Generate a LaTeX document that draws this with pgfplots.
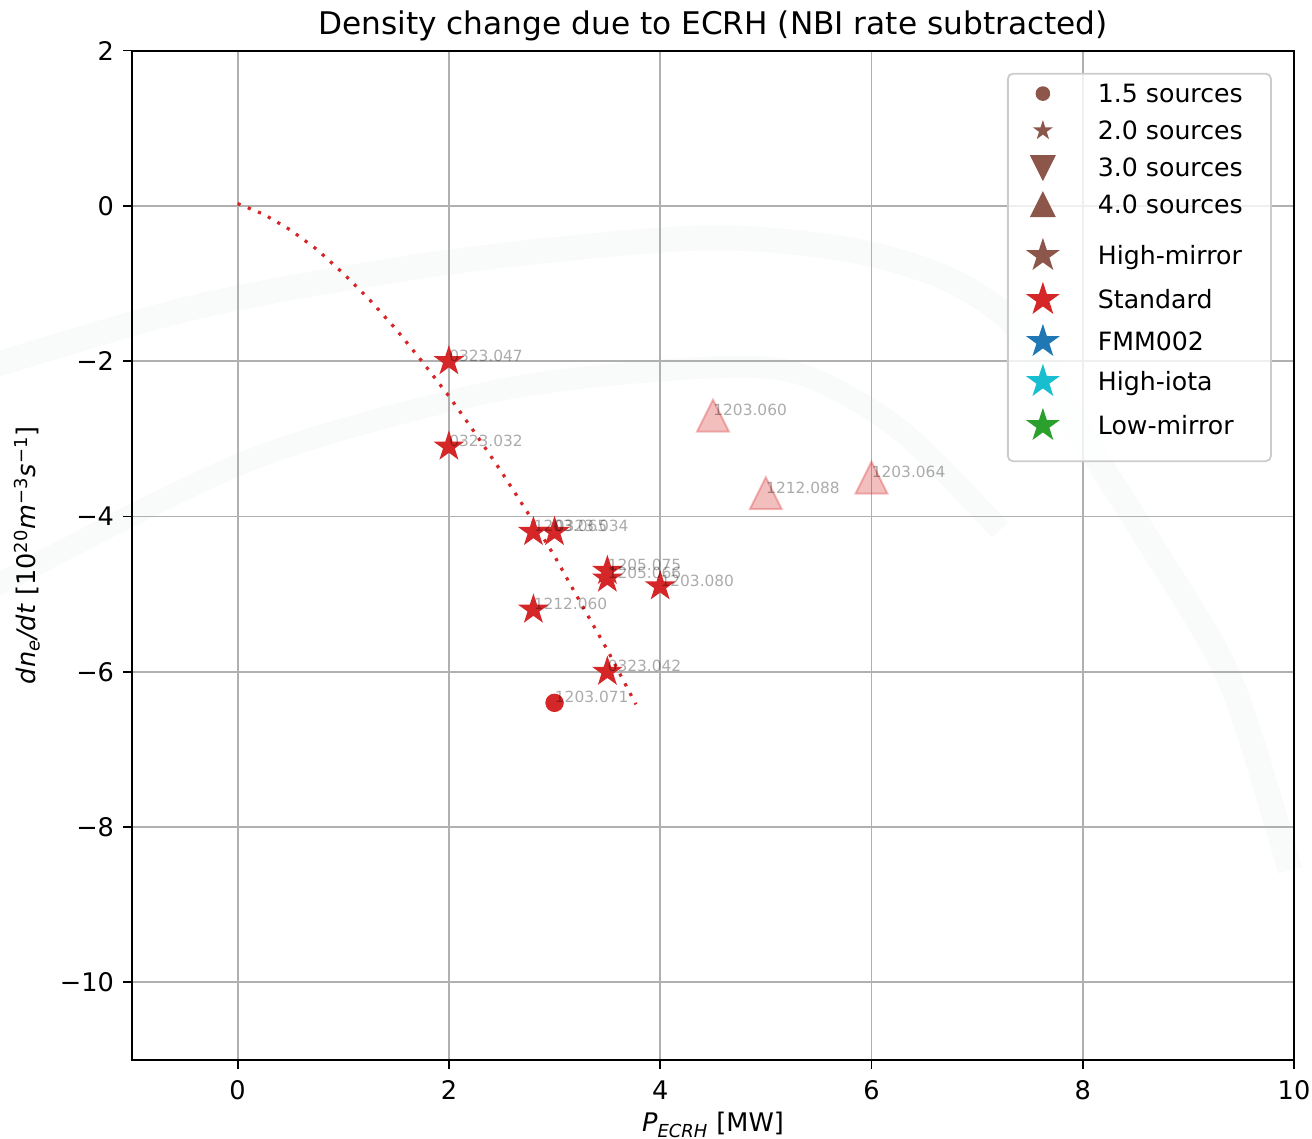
\documentclass[border=0pt]{standalone}
\usepackage{fontspec}
\setmainfont{DejaVu Sans}
\usepackage{pgfplots}
\usepackage{pgfplotstable}
\pgfplotsset{compat=1.18}
\definecolor{tabred}{HTML}{D62728}
\definecolor{tabbrown}{HTML}{8C564B}
\definecolor{tabblue}{HTML}{1F77B4}
\definecolor{tabcyan}{HTML}{17BECF}
\definecolor{tabgreen}{HTML}{2CA02C}
\definecolor{gridgray}{HTML}{B0B0B0}
\definecolor{legedge}{HTML}{CCCCCC}
\definecolor{wm}{HTML}{F9FAFA}

\tikzset{legh/.store in=\legh, legd/.store in=\legd, legh=13.5pt, legd=5pt}

\pgfdeclareplotmark{mstar}{%
  \pgfpathmoveto{\pgfqpointpolar{90}{\pgfplotmarksize}}%
  \pgfpathlineto{\pgfqpointpolar{126}{0.381966\pgfplotmarksize}}%
  \pgfpathlineto{\pgfqpointpolar{162}{\pgfplotmarksize}}%
  \pgfpathlineto{\pgfqpointpolar{198}{0.381966\pgfplotmarksize}}%
  \pgfpathlineto{\pgfqpointpolar{234}{\pgfplotmarksize}}%
  \pgfpathlineto{\pgfqpointpolar{270}{0.381966\pgfplotmarksize}}%
  \pgfpathlineto{\pgfqpointpolar{306}{\pgfplotmarksize}}%
  \pgfpathlineto{\pgfqpointpolar{342}{0.381966\pgfplotmarksize}}%
  \pgfpathlineto{\pgfqpointpolar{18}{\pgfplotmarksize}}%
  \pgfpathlineto{\pgfqpointpolar{54}{0.381966\pgfplotmarksize}}%
  \pgfpathclose
  \pgfusepathqfill}
\pgfdeclareplotmark{mtriup}{%
  \pgfpathmoveto{\pgfqpoint{0pt}{\pgfplotmarksize}}%
  \pgfpathlineto{\pgfqpoint{-\pgfplotmarksize}{-\pgfplotmarksize}}%
  \pgfpathlineto{\pgfqpoint{\pgfplotmarksize}{-\pgfplotmarksize}}%
  \pgfpathclose
  \pgfusepathqfillstroke}
\pgfdeclareplotmark{mtridown}{%
  \pgfpathmoveto{\pgfqpoint{0pt}{-\pgfplotmarksize}}%
  \pgfpathlineto{\pgfqpoint{-\pgfplotmarksize}{\pgfplotmarksize}}%
  \pgfpathlineto{\pgfqpoint{\pgfplotmarksize}{\pgfplotmarksize}}%
  \pgfpathclose
  \pgfusepathqfillstroke}

% Standard configuration, 2.0 sources (stars)
\pgfplotstableread{
x y
2.0 -2.0
2.0 -3.1
2.8 -4.2
3.0 -4.2
3.5 -4.7
3.5 -4.8
4.0 -4.9
2.8 -5.2
3.5 -6.0
}\stdstars
% Standard, 1.5 sources (circle)
\pgfplotstableread{
x y
3.0 -6.4
}\stdcircle
% Standard, 4.0 sources (triangles, faded)
\pgfplotstableread{
x y
4.5 -2.7
5.0 -3.7
6.0 -3.5
}\stdtri
% shot labels
\pgfplotstableread{
x y label
2.0 -2.0 0323.047
2.0 -3.1 0323.032
2.8 -4.2 1203.065
3.0 -4.2 0323.034
3.5 -4.7 1205.075
3.5 -4.8 1205.066
4.0 -4.9 1203.080
2.8 -5.2 1212.060
3.5 -6.0 0323.042
3.0 -6.4 1203.071
4.5 -2.7 1203.060
5.0 -3.7 1212.088
6.0 -3.5 1203.064
}\shotlabels

\begin{document}
\begin{tikzpicture}
\path[use as bounding box] (-66pt,-39.5pt) rectangle (590pt,530pt);
% faint watermark arcs
\draw[wm, line width=12.5pt] plot[smooth] coordinates {(-70pt,347pt) (34pt,377pt) (159pt,399pt) (284pt,411pt) (359pt,405pt) (409pt,390pt) (444pt,365pt) (470pt,320pt) (508pt,260pt) (549pt,190pt) (579pt,95pt)};
\draw[wm, line width=11pt] plot[smooth] coordinates {(-70pt,236pt) (59pt,300pt) (184pt,335pt) (284pt,346pt) (334pt,343pt) (384pt,315pt) (434pt,265pt)};
\begin{axis}[
  scale only axis,
  width=581pt, height=504.7pt,
  xmin=-1, xmax=10, ymin=-11, ymax=2,
  xtick={0,2,4,6,8,10},
  xticklabels={0,2,4,6,8,10},
  ytick={-10,-8,-6,-4,-2,0,2},
  yticklabels={−10,−8,−6,−4,−2,0,2},
  tick align=outside, tick pos=left,
  major tick length=4.3pt,
  major tick style={black, line width=0.9pt},
  grid=major,
  major grid style={gridgray, line width=0.9pt},
  axis line style={black, line width=1pt},
  tick label style={font=\fontsize{12.8}{15}\selectfont},
  yticklabel style={inner sep=0pt, xshift=-4.5pt},
  xticklabel style={inner sep=0pt, yshift=-6pt},
  title={Density change due to ECRH (NBI rate subtracted)},
  title style={font=\fontsize{15.6}{18}\selectfont, at={(axis description cs:0.5,1)}, anchor=base, yshift=1.8pt},
  xlabel={\textit{P}\textsubscript{\textit{ECRH}} [MW]},
  xlabel style={font=\fontsize{12.8}{15}\selectfont, at={(axis description cs:0.5,0)}, anchor=base, yshift=-36pt},
  ylabel={\textit{dn}\textsubscript{\textit{e}}\textit{/dt} [10\textsuperscript{20}\textit{m}\textsuperscript{−3}\textit{s}\textsuperscript{−1}]},
  ylabel style={font=\fontsize{12.8}{15}\selectfont, at={([xshift=-48pt]axis description cs:0,0.5)}, anchor=base},
  legend style={at={(0.7530,0.9780)}, anchor=north west, draw=legedge, line width=0.9pt,
    rounded corners=2.5pt, fill=white, fill opacity=0.8, draw opacity=1, text opacity=1,
    inner sep=0pt, row sep=0pt, column sep=10pt,
    font=\fontsize{12.6}{15}\selectfont, nodes={inner sep=0pt}, cells={anchor=base west}},
  legend image code/.code={%
    \path[#1, draw=none, fill=none] (0pt,-\legd) (35pt,\legh);
    \draw[#1, sharp corners, fill opacity=1, draw opacity=1] plot coordinates {(17.5pt,4.3pt)};},
]
% fitted trend (dotted)
\addplot[forget plot, tabred, line width=1.6pt, dash pattern=on 1.6pt off 3.9pt] coordinates {
(0,0.03) (0.25,-0.11) (0.5,-0.31) (0.75,-0.56) (1.0,-0.87) (1.25,-1.21) (1.5,-1.59)
(1.75,-2.01) (2.0,-2.45) (2.25,-2.93) (2.5,-3.43) (2.75,-3.96) (3.0,-4.51)
(3.25,-5.12) (3.5,-5.72) (3.77,-6.42)};
\addplot[forget plot, only marks, mark=mstar, mark size=8.1pt, color=tabred] table {\stdstars};
\addplot[forget plot, only marks, mark=*, mark size=4.4pt, color=tabred, mark options={draw=none}] table {\stdcircle};
\addplot[forget plot, only marks, mark=mtriup, mark size=8pt,
  mark options={fill=tabred, draw=tabred, fill opacity=0.3, draw opacity=0.3, line width=1pt}] table {\stdtri};
\addplot[forget plot, draw=none, mark=none, nodes near coords, point meta=explicit symbolic,
  nodes near coords style={anchor=base west, inner sep=0pt, font=\fontsize{7.7}{9}\selectfont, text=black, text opacity=0.33}]
  table[meta=label] {\shotlabels};
% legend
\addlegendimage{only marks, mark=*, mark size=3.2pt, color=tabbrown, legh=14.25pt, legd=5pt}
\addlegendentry{\makebox[86.5pt][l]{1.5 sources}}
\addlegendimage{only marks, mark=mstar, mark size=5.25pt, color=tabbrown, legh=13.5pt, legd=5pt}
\addlegendentry{\makebox[86.5pt][l]{2.0 sources}}
\addlegendimage{only marks, mark=mtridown, mark size=5.75pt, color=tabbrown, legh=13.5pt, legd=5pt}
\addlegendentry{\makebox[86.5pt][l]{3.0 sources}}
\addlegendimage{only marks, mark=mtriup, mark size=5.75pt, color=tabbrown, legh=13.5pt, legd=5pt}
\addlegendentry{\makebox[86.5pt][l]{4.0 sources}}
\addlegendimage{only marks, mark=mstar, mark size=8.9pt, color=tabbrown, legh=20.5pt, legd=5pt}
\addlegendentry{\makebox[86.5pt][l]{High-mirror}}
\addlegendimage{only marks, mark=mstar, mark size=8.9pt, color=tabred, legh=17pt, legd=5pt}
\addlegendentry{\makebox[86.5pt][l]{Standard}}
\addlegendimage{only marks, mark=mstar, mark size=8.9pt, color=tabblue, legh=16pt, legd=5pt}
\addlegendentry{\makebox[86.5pt][l]{FMM002}}
\addlegendimage{only marks, mark=mstar, mark size=8.9pt, color=tabcyan, legh=15pt, legd=5pt}
\addlegendentry{\makebox[86.5pt][l]{High-iota}}
\addlegendimage{only marks, mark=mstar, mark size=8.9pt, color=tabgreen, legh=17pt, legd=13.5pt}
\addlegendentry{\makebox[86.5pt][l]{Low-mirror}}
\end{axis}
\end{tikzpicture}
\end{document}
